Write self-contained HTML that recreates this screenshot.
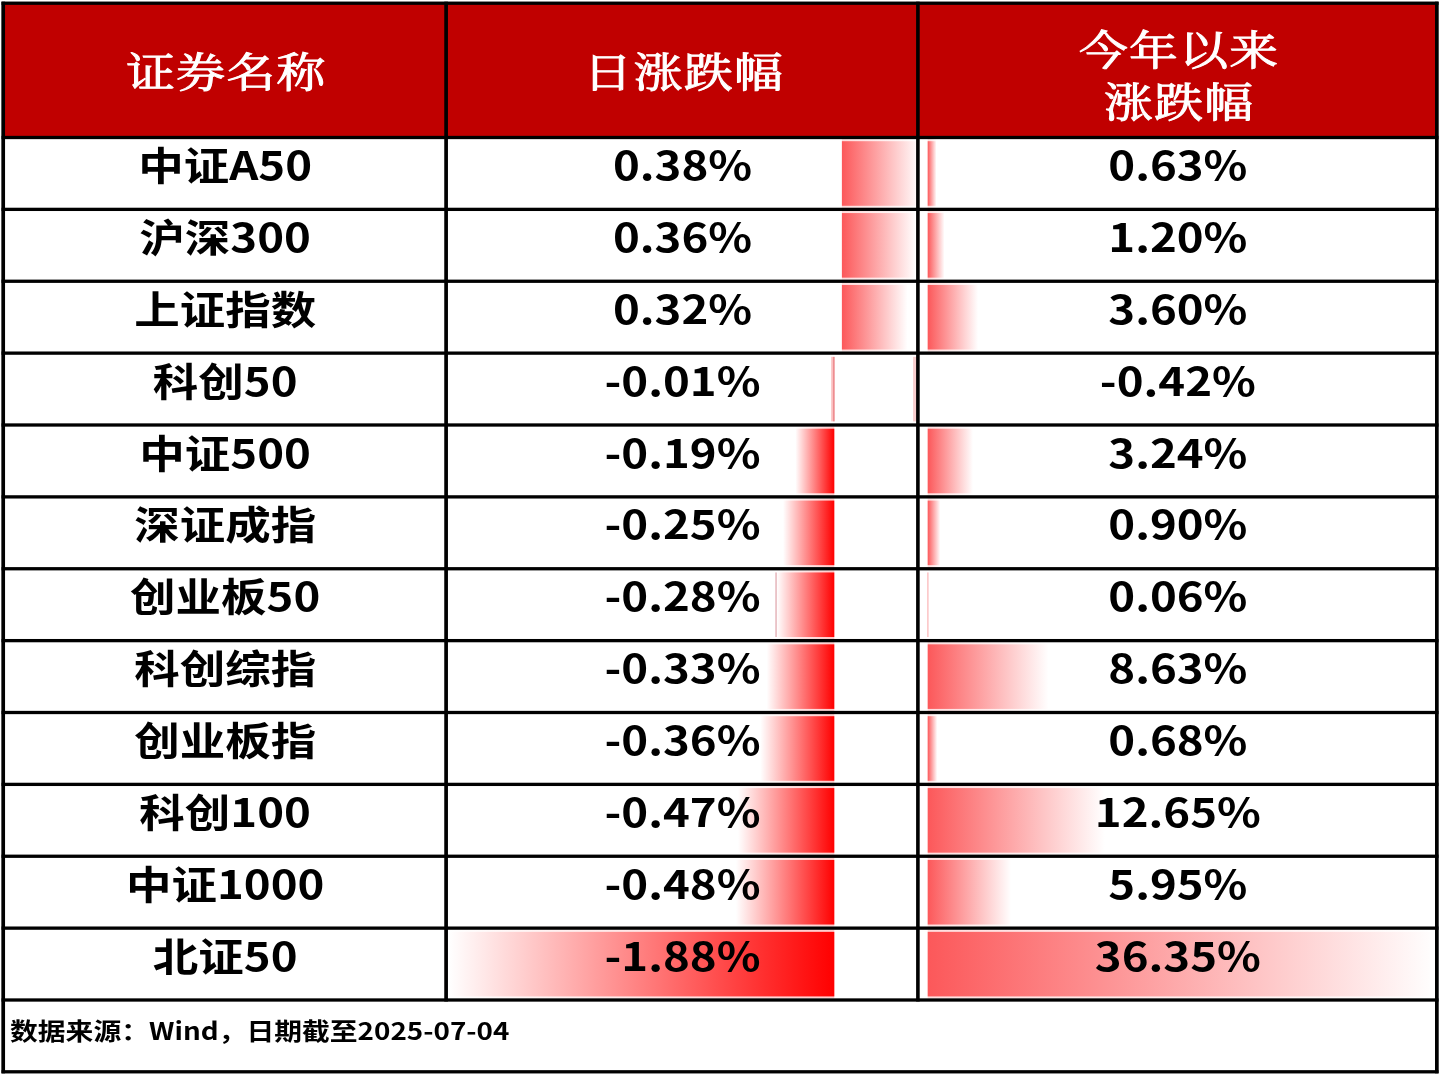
<!DOCTYPE html><html lang="zh-CN"><head><meta charset="utf-8"><title>指数涨跌幅</title><style>
html,body{margin:0;padding:0;background:#fff}
body{width:1440px;height:1075px;position:relative;overflow:hidden;font-family:"Liberation Sans","Noto Sans CJK SC",sans-serif}
.t{position:absolute;white-space:nowrap;text-align:center;font-family:"Noto Sans CJK SC","Liberation Sans",sans-serif;font-weight:bold;color:#000;font-size:45.5px;line-height:60px;height:60px;transform:scaleY(0.86);transform-origin:50% 49.84px}
.l{display:inline-block;line-height:1;transform:scaleY(1.0174);transform-origin:50% 0.936em}
.h{position:absolute;white-space:nowrap;text-align:center;color:#fff;font-family:"Noto Serif CJK SC","Liberation Serif",serif;font-weight:400;font-size:48.8px;line-height:60px;height:60px;letter-spacing:1.3px;-webkit-text-stroke:1.15px #fff;transform:scaleY(0.828);transform-origin:50% 51.11px}
.f{position:absolute;white-space:nowrap;font-family:"Noto Sans CJK SC","Liberation Sans",sans-serif;font-weight:bold;color:#000;font-size:27.8px;line-height:40px;height:40px;transform:scaleY(0.86);transform-origin:0 32.12px}
</style></head><body>
<svg width="1440" height="1075" viewBox="0 0 1440 1075" style="position:absolute;left:0;top:0">
<defs><linearGradient id="gp" x1="0" y1="0" x2="1" y2="0"><stop offset="0" stop-color="#fc585a"/><stop offset="1" stop-color="#ffffff"/></linearGradient><linearGradient id="gn" x1="0" y1="0" x2="1" y2="0"><stop offset="0" stop-color="#ffffff"/><stop offset="1" stop-color="#ff0000"/></linearGradient></defs>
<rect x="3.20" y="3.20" width="1433.65" height="134.30" fill="#c00000"/>
<rect x="841.90" y="139.10" width="77.90" height="68.67" fill="url(#gp)" opacity="0.2"/>
<rect x="841.90" y="141.20" width="77.90" height="64.58" fill="url(#gp)"/>
<rect x="927.70" y="139.10" width="8.82" height="68.67" fill="url(#gp)" opacity="0.2"/>
<rect x="927.70" y="141.20" width="8.82" height="64.58" fill="url(#gp)"/>
<rect x="841.90" y="210.97" width="73.80" height="68.67" fill="url(#gp)" opacity="0.2"/>
<rect x="841.90" y="213.07" width="73.80" height="64.58" fill="url(#gp)"/>
<rect x="927.70" y="210.97" width="16.80" height="68.67" fill="url(#gp)" opacity="0.2"/>
<rect x="927.70" y="213.07" width="16.80" height="64.58" fill="url(#gp)"/>
<rect x="841.90" y="282.85" width="65.60" height="68.67" fill="url(#gp)" opacity="0.2"/>
<rect x="841.90" y="284.95" width="65.60" height="64.58" fill="url(#gp)"/>
<rect x="927.70" y="282.85" width="50.40" height="68.67" fill="url(#gp)" opacity="0.2"/>
<rect x="927.70" y="284.95" width="50.40" height="64.58" fill="url(#gp)"/>
<rect x="831.2" y="356.82" width="1.9" height="64.58" fill="#fbc0c0"/><rect x="833.0" y="356.82" width="1.7" height="64.58" fill="#ee8d91"/>
<rect x="913.1" y="356.82" width="3.4" height="64.58" fill="#f8cdcd"/>
<rect x="795.35" y="426.60" width="38.95" height="68.67" fill="url(#gn)" opacity="0.2"/>
<rect x="795.35" y="428.70" width="38.95" height="64.58" fill="url(#gn)"/>
<rect x="927.70" y="426.60" width="45.36" height="68.67" fill="url(#gp)" opacity="0.2"/>
<rect x="927.70" y="428.70" width="45.36" height="64.58" fill="url(#gp)"/>
<rect x="783.05" y="498.48" width="51.25" height="68.67" fill="url(#gn)" opacity="0.2"/>
<rect x="783.05" y="500.57" width="51.25" height="64.58" fill="url(#gn)"/>
<rect x="927.70" y="498.48" width="12.60" height="68.67" fill="url(#gp)" opacity="0.2"/>
<rect x="927.70" y="500.57" width="12.60" height="64.58" fill="url(#gp)"/>
<rect x="776.90" y="570.35" width="57.40" height="68.67" fill="url(#gn)" opacity="0.2"/>
<rect x="776.90" y="572.45" width="57.40" height="64.58" fill="url(#gn)"/>
<rect x="775.4" y="572.45" width="1.3" height="64.58" fill="#e2aab0"/>
<rect x="927.30" y="572.45" width="1.2" height="64.58" fill="#fbb4b6"/>
<rect x="766.65" y="642.23" width="67.65" height="68.67" fill="url(#gn)" opacity="0.2"/>
<rect x="766.65" y="644.33" width="67.65" height="64.58" fill="url(#gn)"/>
<rect x="927.70" y="642.23" width="120.82" height="68.67" fill="url(#gp)" opacity="0.2"/>
<rect x="927.70" y="644.33" width="120.82" height="64.58" fill="url(#gp)"/>
<rect x="760.50" y="714.10" width="73.80" height="68.67" fill="url(#gn)" opacity="0.2"/>
<rect x="760.50" y="716.20" width="73.80" height="64.58" fill="url(#gn)"/>
<rect x="927.70" y="714.10" width="9.52" height="68.67" fill="url(#gp)" opacity="0.2"/>
<rect x="927.70" y="716.20" width="9.52" height="64.58" fill="url(#gp)"/>
<rect x="737.95" y="785.98" width="96.35" height="68.67" fill="url(#gn)" opacity="0.2"/>
<rect x="737.95" y="788.08" width="96.35" height="64.58" fill="url(#gn)"/>
<rect x="927.70" y="785.98" width="177.10" height="68.67" fill="url(#gp)" opacity="0.2"/>
<rect x="927.70" y="788.08" width="177.10" height="64.58" fill="url(#gp)"/>
<rect x="735.90" y="857.85" width="98.40" height="68.67" fill="url(#gn)" opacity="0.2"/>
<rect x="735.90" y="859.95" width="98.40" height="64.58" fill="url(#gn)"/>
<rect x="927.70" y="857.85" width="83.30" height="68.67" fill="url(#gp)" opacity="0.2"/>
<rect x="927.70" y="859.95" width="83.30" height="64.58" fill="url(#gp)"/>
<rect x="448.90" y="929.73" width="385.40" height="68.67" fill="url(#gn)" opacity="0.2"/>
<rect x="448.90" y="931.83" width="385.40" height="64.58" fill="url(#gn)"/>
<rect x="927.70" y="929.73" width="508.90" height="68.67" fill="url(#gp)" opacity="0.2"/>
<rect x="927.70" y="931.83" width="508.90" height="64.58" fill="url(#gp)"/>
<rect x="1.55" y="1.55" width="1436.95" height="3.30" fill="#000"/>
<rect x="1.55" y="1070.15" width="1436.95" height="3.30" fill="#000"/>
<rect x="1.55" y="135.85" width="1436.95" height="3.30" fill="#000"/>
<rect x="1.55" y="207.72" width="1436.95" height="3.30" fill="#000"/>
<rect x="1.55" y="279.60" width="1436.95" height="3.30" fill="#000"/>
<rect x="1.55" y="351.48" width="1436.95" height="3.30" fill="#000"/>
<rect x="1.55" y="423.35" width="1436.95" height="3.30" fill="#000"/>
<rect x="1.55" y="495.23" width="1436.95" height="3.30" fill="#000"/>
<rect x="1.55" y="567.10" width="1436.95" height="3.30" fill="#000"/>
<rect x="1.55" y="638.98" width="1436.95" height="3.30" fill="#000"/>
<rect x="1.55" y="710.85" width="1436.95" height="3.30" fill="#000"/>
<rect x="1.55" y="782.73" width="1436.95" height="3.30" fill="#000"/>
<rect x="1.55" y="854.60" width="1436.95" height="3.30" fill="#000"/>
<rect x="1.55" y="926.48" width="1436.95" height="3.30" fill="#000"/>
<rect x="1.55" y="998.35" width="1436.95" height="3.30" fill="#000"/>
<rect x="1.35" y="1.70" width="3.70" height="1071.60" fill="#000"/>
<rect x="1435.00" y="1.70" width="3.70" height="1071.60" fill="#000"/>
<rect x="444.25" y="1.70" width="3.70" height="999.80" fill="#000"/>
<rect x="916.10" y="1.70" width="3.60" height="999.80" fill="#000"/>
</svg>
<div class="h" style="left:5.00px;width:442.90px;top:36.19px">证券名称</div>
<div class="h" style="left:447.90px;width:471.80px;top:36.19px">日涨跌幅</div>
<div class="h" style="left:919.70px;width:518.95px;top:13.99px">今年以来</div>
<div class="h" style="left:919.70px;width:518.95px;top:66.39px">涨跌幅</div>
<div class="t" style="left:3.70px;width:442.90px;top:130.11px">中证<span class="l">A50</span></div>
<div class="t" style="left:446.60px;width:471.80px;top:130.11px"><span class="l">0.38%</span></div>
<div class="t" style="left:918.40px;width:518.95px;top:130.11px"><span class="l">0.63%</span></div>
<div class="t" style="left:3.70px;width:442.90px;top:201.99px">沪深<span class="l">300</span></div>
<div class="t" style="left:446.60px;width:471.80px;top:201.99px"><span class="l">0.36%</span></div>
<div class="t" style="left:918.40px;width:518.95px;top:201.99px"><span class="l">1.20%</span></div>
<div class="t" style="left:3.70px;width:442.90px;top:273.86px">上证指数</div>
<div class="t" style="left:446.60px;width:471.80px;top:273.86px"><span class="l">0.32%</span></div>
<div class="t" style="left:918.40px;width:518.95px;top:273.86px"><span class="l">3.60%</span></div>
<div class="t" style="left:3.70px;width:442.90px;top:345.74px">科创<span class="l">50</span></div>
<div class="t" style="left:446.60px;width:471.80px;top:345.74px"><span class="l">-0.01%</span></div>
<div class="t" style="left:918.40px;width:518.95px;top:345.74px"><span class="l">-0.42%</span></div>
<div class="t" style="left:3.70px;width:442.90px;top:417.61px">中证<span class="l">500</span></div>
<div class="t" style="left:446.60px;width:471.80px;top:417.61px"><span class="l">-0.19%</span></div>
<div class="t" style="left:918.40px;width:518.95px;top:417.61px"><span class="l">3.24%</span></div>
<div class="t" style="left:3.70px;width:442.90px;top:489.49px">深证成指</div>
<div class="t" style="left:446.60px;width:471.80px;top:489.49px"><span class="l">-0.25%</span></div>
<div class="t" style="left:918.40px;width:518.95px;top:489.49px"><span class="l">0.90%</span></div>
<div class="t" style="left:3.70px;width:442.90px;top:561.36px">创业板<span class="l">50</span></div>
<div class="t" style="left:446.60px;width:471.80px;top:561.36px"><span class="l">-0.28%</span></div>
<div class="t" style="left:918.40px;width:518.95px;top:561.36px"><span class="l">0.06%</span></div>
<div class="t" style="left:3.70px;width:442.90px;top:633.24px">科创综指</div>
<div class="t" style="left:446.60px;width:471.80px;top:633.24px"><span class="l">-0.33%</span></div>
<div class="t" style="left:918.40px;width:518.95px;top:633.24px"><span class="l">8.63%</span></div>
<div class="t" style="left:3.70px;width:442.90px;top:705.11px">创业板指</div>
<div class="t" style="left:446.60px;width:471.80px;top:705.11px"><span class="l">-0.36%</span></div>
<div class="t" style="left:918.40px;width:518.95px;top:705.11px"><span class="l">0.68%</span></div>
<div class="t" style="left:3.70px;width:442.90px;top:776.99px">科创<span class="l">100</span></div>
<div class="t" style="left:446.60px;width:471.80px;top:776.99px"><span class="l">-0.47%</span></div>
<div class="t" style="left:918.40px;width:518.95px;top:776.99px"><span class="l">12.65%</span></div>
<div class="t" style="left:3.70px;width:442.90px;top:848.86px">中证<span class="l">1000</span></div>
<div class="t" style="left:446.60px;width:471.80px;top:848.86px"><span class="l">-0.48%</span></div>
<div class="t" style="left:918.40px;width:518.95px;top:848.86px"><span class="l">5.95%</span></div>
<div class="t" style="left:3.70px;width:442.90px;top:920.74px">北证<span class="l">50</span></div>
<div class="t" style="left:446.60px;width:471.80px;top:920.74px"><span class="l">-1.88%</span></div>
<div class="t" style="left:918.40px;width:518.95px;top:920.74px"><span class="l">36.35%</span></div>
<div class="f" style="left:10.00px;top:1008.48px">数据来源：<span class="l">Wind</span>，日期截至<span class="l">2025-07-04</span></div>
</body></html>
